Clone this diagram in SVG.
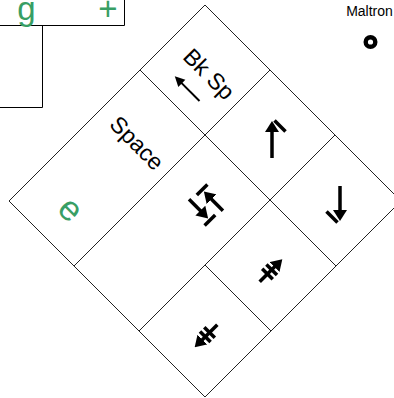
<svg xmlns="http://www.w3.org/2000/svg" width="394" height="398" viewBox="0 0 394 398">
<style>
.cell{fill:none;stroke:#222;stroke-width:1}
.tbl{fill:none;stroke:#000;stroke-width:1}
.lbl{font-family:"Liberation Sans",Arial,sans-serif;fill:#000}
.grn{font-family:"Liberation Sans",Arial,sans-serif;fill:#389e64}
.ic{fill:none;stroke:#000;stroke-width:3.5}
.sh{fill:none;stroke:#000;stroke-width:3.5;marker-end:url(#ah)}
</style>
<defs>
<marker id="ah" markerUnits="userSpaceOnUse" markerWidth="11" markerHeight="14" viewBox="0 0 11 14" refX="3" refY="7" orient="auto">
<path d="M0,0 L11,7 L0,14 z" fill="#000"/>
</marker>
</defs>
<rect width="394" height="398" fill="#fff"/>

<g id="key-g">
<path class="tbl" d="M0,25.5 H124.5 M124.5,0 V25.5"/>
<text class="grn" x="26.5" y="20" font-size="33" text-anchor="middle">g</text>
<text class="grn" x="108" y="20" font-size="33" text-anchor="middle">+</text>
</g>
<g id="key-left">
<path class="tbl" d="M42.5,25.5 V107.5 H0"/>
</g>

<g id="maltron">
<text class="lbl" x="369.5" y="16" font-size="14" text-anchor="middle">Maltron</text>
<circle cx="370.5" cy="42" r="4.8" fill="none" stroke="#000" stroke-width="4.4"/>
</g>

<g id="bksp">
<polygon class="cell" points="205,5 270,70 205,135 140,70"/>
<text class="lbl" font-size="23" text-anchor="middle" transform="translate(209,74) rotate(45)" y="8">Bk Sp</text>
<g transform="translate(187.5,89) rotate(225)">
<line x1="-17" y1="0" x2="9" y2="0" stroke="#000" stroke-width="2"/>
<polygon points="18,0 8,-5 8,5" fill="#000"/>
</g>
</g>

<g id="space">
<polygon class="cell" points="140,70 205,135 74,266 9,201"/>
<text class="lbl" font-size="23" text-anchor="middle" transform="translate(137,143) rotate(45)" y="8">Space</text>
<text class="grn" font-size="35" text-anchor="middle" transform="translate(69,211) rotate(45)" y="9">e</text>
</g>

<g id="up">
<polygon class="cell" points="270,70 335,135 270,200 205,135"/>
<line class="sh" x1="272" y1="158" x2="272" y2="129"/>
<line class="ic" x1="274.5" y1="120.5" x2="285.5" y2="131.5"/>
</g>

<g id="swap">
<polygon class="cell" points="205,135 270,200 139,331 74,266"/>
<g transform="translate(206,205) rotate(45)">
<line class="sh" x1="16" y1="-8" x2="-3" y2="-8"/>
<line class="ic" x1="-13.5" y1="-15.5" x2="-13.5" y2="-0.5"/>
<line class="sh" x1="-16" y1="8" x2="3" y2="8"/>
<line class="ic" x1="13.5" y1="0.5" x2="13.5" y2="15.5"/>
</g>
</g>

<g id="down">
<polygon class="cell" points="335,135 401,201 336,266 270,200"/>
<line class="sh" x1="340" y1="186" x2="340" y2="213"/>
<line class="ic" x1="337.5" y1="222.5" x2="326.5" y2="211.5"/>
</g>

<g id="pgup">
<polygon class="cell" points="270,200 336,266 271,331 205,265"/>
<g transform="translate(271,270.5) rotate(-45)">
<line class="sh" x1="-16" y1="0" x2="8" y2="0"/>
<line class="ic" x1="-5" y1="-7.5" x2="-5" y2="7.5"/>
<line class="ic" x1="1" y1="-7.5" x2="1" y2="7.5"/>
</g>
</g>

<g id="pgdn">
<polygon class="cell" points="205,265 271,331 205,397 139,331"/>
<g transform="translate(206,336) rotate(135)">
<line class="sh" x1="-16" y1="0" x2="8" y2="0"/>
<line class="ic" x1="-5" y1="-7.5" x2="-5" y2="7.5"/>
<line class="ic" x1="1" y1="-7.5" x2="1" y2="7.5"/>
</g>
</g>

<g id="connectors"></g>
</svg>
